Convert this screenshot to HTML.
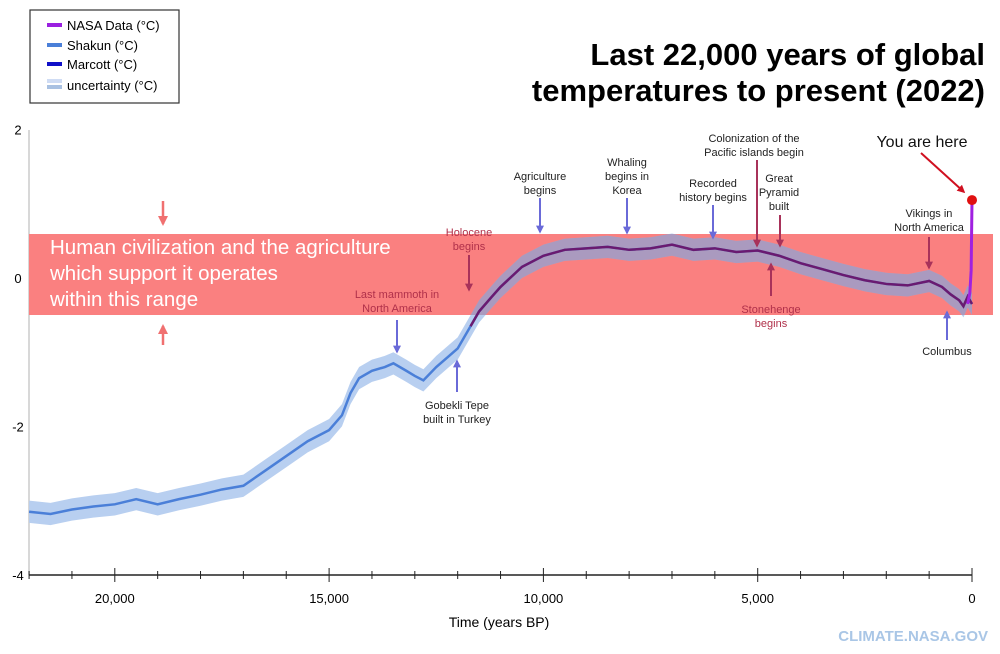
<!DOCTYPE html>
<html><head><meta charset="utf-8">
<style>
body{margin:0;background:#fff;}
svg{display:block;font-family:"Liberation Sans",sans-serif;}
</style></head>
<body>
<svg id="chart" width="1000" height="654" viewBox="0 0 1000 654">
<defs>
<clipPath id="bandclip"><rect x="29" y="234" width="964" height="81"/></clipPath>
<marker id="ab" viewBox="0 0 10 10" refX="8" refY="5" markerWidth="4" markerHeight="4" orient="auto"><path d="M0,0 L10,5 L0,10 z" fill="#6a6ad8"/></marker>
<marker id="ar" viewBox="0 0 10 10" refX="8" refY="5" markerWidth="4" markerHeight="4" orient="auto"><path d="M0,0 L10,5 L0,10 z" fill="#a8325a"/></marker>
<marker id="ap" viewBox="0 0 10 10" refX="8" refY="5" markerWidth="4" markerHeight="4" orient="auto"><path d="M0,0 L10,5 L0,10 z" fill="#f07070"/></marker>
<marker id="aR" viewBox="0 0 10 10" refX="8" refY="5" markerWidth="4" markerHeight="4" orient="auto"><path d="M0,0 L10,5 L0,10 z" fill="#d01020"/></marker>
</defs>
<g id="legend">
<rect x="30" y="10" width="149" height="93" fill="#fff" stroke="#333" stroke-width="1.2"/>
<rect x="47" y="23" width="15" height="4" fill="#9a20e0"/><text x="67" y="30" font-size="13">NASA Data (°C)</text>
<rect x="47" y="43" width="15" height="4" fill="#4a7fd8"/><text x="67" y="50" font-size="13">Shakun (°C)</text>
<rect x="47" y="62" width="15" height="4" fill="#1010c8"/><text x="67" y="69" font-size="13">Marcott (°C)</text>
<rect x="47" y="79" width="15" height="4" fill="#cfdcf4"/><rect x="47" y="85" width="15" height="4" fill="#a9c1e2"/><text x="67" y="90" font-size="13">uncertainty (°C)</text>
</g>
<text x="985" y="65" font-size="31" font-weight="bold" text-anchor="end">Last 22,000 years of global</text>
<text x="985" y="101" font-size="31" font-weight="bold" text-anchor="end">temperatures to present (2022)</text>
<line x1="29" y1="130" x2="29" y2="575" stroke="#ccc" stroke-width="1.5"/>
<rect x="29" y="234" width="964" height="81" fill="#fa8080"/>
<g id="ticks"></g>
<g id="series"></g>
<g id="annot" font-size="11" text-anchor="middle"></g>
<text x="50" y="254" font-size="20.5" fill="#fff"><tspan x="50">Human civilization and the agriculture</tspan><tspan x="50" dy="26">which support it operates</tspan><tspan x="50" dy="26">within this range</tspan></text>
<line x1="163" y1="201" x2="163" y2="224" stroke="#f07070" stroke-width="2.5" marker-end="url(#ap)"/>
<line x1="163" y1="345" x2="163" y2="326" stroke="#f07070" stroke-width="2.5" marker-end="url(#ap)"/>
<text x="499" y="627" font-size="14" text-anchor="middle">Time (years BP)</text>
<text x="988" y="641" font-size="15" font-weight="bold" fill="#a9c6e6" text-anchor="end">CLIMATE.NASA.GOV</text>
</svg>
<script>
const years=[22000,21500,21000,20500,20000,19500,19000,18500,18000,17500,17000,16500,16000,15500,15000,14700,14500,14300,14000,13700,13500,13200,13000,12800,12500,12200,12000,11700,11500,11200,11000,10500,10000,9500,9000,8500,8000,7500,7000,6500,6000,5500,5000,4500,4000,3500,3000,2500,2000,1500,1000,700,500,300,200,100,0];
const temps=[-3.15,-3.18,-3.12,-3.08,-3.05,-2.98,-3.05,-2.98,-2.92,-2.85,-2.8,-2.6,-2.4,-2.2,-2.05,-1.85,-1.55,-1.35,-1.25,-1.2,-1.15,-1.25,-1.32,-1.38,-1.2,-1.05,-0.95,-0.65,-0.45,-0.25,-0.12,0.15,0.3,0.38,0.4,0.42,0.38,0.4,0.45,0.38,0.4,0.35,0.37,0.3,0.2,0.12,0.04,-0.03,-0.08,-0.1,-0.04,-0.12,-0.22,-0.3,-0.38,-0.25,-0.35];
const nasaYears=[100,50,20,0];
const nasaTemps=[-0.35,-0.2,0.1,1.05];
const yTicks=[2,0,-2,-4];
const xLabels=[20000,15000,10000,5000,0];
const unc=0.15;
const NS="http://www.w3.org/2000/svg";
const X=t=>972-t*0.04286, Y=v=>278-v*74.2;
function mk(tag,attrs,parent){const e=document.createElementNS(NS,tag);for(const k in attrs)e.setAttribute(k,attrs[k]);parent.appendChild(e);return e;}
const tk=document.getElementById('ticks');
const ax=mk('line',{x1:29,y1:575,x2:972,y2:575,stroke:'#222','stroke-width':1.5},tk);


for(let t=0;t<=22000;t+=1000){const big=t%5000===0;
 const l=mk('line',{x1:X(t),x2:X(t),y1:big?568:571,y2:big?582:579,stroke:'#222','stroke-width':1},tk);
 
 }
xLabels.forEach(t=>{const e=mk('text',{x:X(t),y:603,'font-size':13,'text-anchor':'middle'},tk);e.textContent=t.toLocaleString('en-US');
 
 });
yTicks.forEach(v=>{const e=mk('text',{x:18,y:Y(v)+5,'font-size':13,'text-anchor':'middle'},tk);e.textContent=v;
 
 });
const sg=document.getElementById('series');
const upper=years.map((t,i)=>X(t)+','+Y(temps[i]+unc)).join(' ');
const lower=years.map((t,i)=>X(t)+','+Y(temps[i]-unc)).reverse().join(' ');
const u1=mk('polygon',{points:upper+' '+lower,fill:'#b8cff0'},sg);


const u2=mk('polygon',{points:upper+' '+lower,fill:'#8a2050','fill-opacity':0.3,'clip-path':'url(#bandclip)'},sg);


const pts=years.map((t,i)=>X(t)+','+Y(temps[i])).join(' ');
const s1=mk('polyline',{points:pts,fill:'none',stroke:'#4a7fd8','stroke-width':2.5},sg);


const mp=years.map((t,i)=>[t,temps[i]]).filter(d=>d[0]<=11700).map(d=>X(d[0])+','+Y(d[1])).join(' ');
const s2=mk('polyline',{points:mp,fill:'none',stroke:'#6a1a70','stroke-width':2.5},sg);


const np=nasaYears.map((t,i)=>X(t)+','+Y(nasaTemps[i])).join(' ');
const s3=mk('polyline',{points:np,fill:'none',stroke:'#a020e0','stroke-width':3},sg);


const dot=mk('circle',{cx:X(0),cy:Y(nasaTemps[nasaTemps.length-1]),r:5,fill:'#e01010'},sg);


const an=document.getElementById('annot');
const notes=[
 ["last-mammoth",["Last mammoth in","North America"],397,294,"#b0304a",[397,320,397,352],"ab"],
 ["holocene",["Holocene","begins"],469,232,"#b0304a",[469,255,469,290],"ar"],
 ["gobekli-tepe",["Gobekli Tepe","built in Turkey"],457,405,"#222",[457,392,457,361],"ab"],
 ["agriculture",["Agriculture","begins"],540,176,"#222",[540,198,540,232],"ab"],
 ["whaling",["Whaling","begins in","Korea"],627,162,"#222",[627,198,627,233],"ab"],
 ["recorded-history",["Recorded","history begins"],713,183,"#222",[713,205,713,238],"ab"],
 ["pacific-colonization",["Colonization of the","Pacific islands begin"],754,138,"#222",[757,160,757,246],"ar"],
 ["great-pyramid",["Great","Pyramid","built"],779,178,"#222",[780,215,780,246],"ar"],
 ["stonehenge",["Stonehenge","begins"],771,309,"#b0304a",[771,296,771,264],"ar"],
 ["vikings",["Vikings in","North America"],929,213,"#222",[929,237,929,268],"ar"],
 ["columbus",["Columbus"],947,351,"#222",[947,340,947,312],"ab"]];
notes.forEach(n=>{
 const t=mk('text',{x:n[2],y:n[3]+4,fill:n[4]},an);
 n[1].forEach((s,i)=>{const sp=mk('tspan',{x:n[2],dy:i?14:0},t);sp.textContent=s;});
 
 
 const a=n[5];const col=n[6]==='ab'?'#6a6ad8':'#a8325a';
 const l=mk('line',{x1:a[0],y1:a[1],x2:a[2],y2:a[3],stroke:col,'stroke-width':2,'marker-end':'url(#'+n[6]+')'},an);
 
 
});
const yh=mk('text',{x:922,y:147,'font-size':16,fill:'#111'},an);yh.textContent='You are here';


const ya=mk('line',{x1:921,y1:153,x2:964,y2:192,stroke:'#d01020','stroke-width':2,'marker-end':'url(#aR)'},an);


</script>
</body></html>
